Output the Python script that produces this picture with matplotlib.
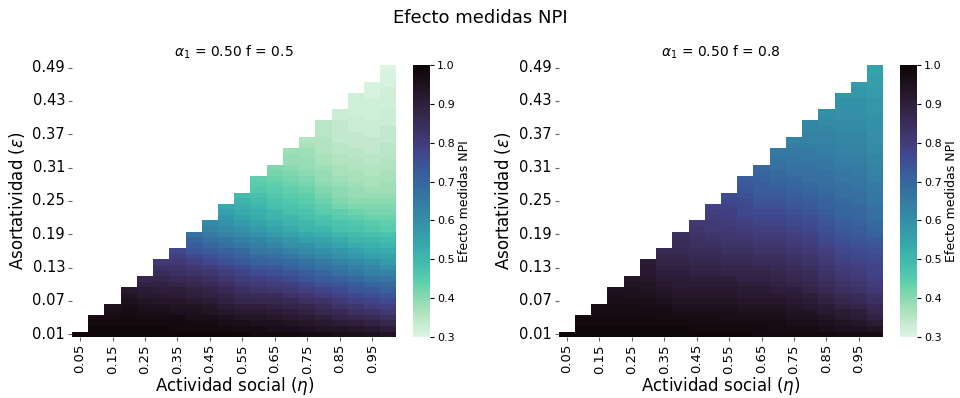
# Efecto de las medidas NPI
# Mapas de calor: actividad social (eta) frente a asortatividad (epsilon)

import numpy as np
import pandas as pd
import matplotlib
matplotlib.use('Agg')
import matplotlib.pyplot as plt
import seaborn as sns


# Ejes del mapa
eta_vals = [0.05, 0.10, 0.15, 0.20, 0.25, 0.30, 0.35, 0.40, 0.45, 0.50,
            0.55, 0.60, 0.65, 0.70, 0.75, 0.80, 0.85, 0.90, 0.95, 1.00]
eps_vals = np.round(np.arange(0.01, 0.50, 0.01), 2)

# Efecto (en %) por columna de eta, desde epsilon = 0.01 hacia arriba; f = 0.5
f05_cols = [
    [99],
    [99, 99, 98, 97],
    [99, 99, 98, 97, 96, 95],
    [99, 99, 98, 98, 97, 96, 95, 94, 92],
    [99, 99, 98, 97, 96, 95, 94, 92, 91, 89, 87],
    [99, 99, 98, 97, 96, 95, 93, 92, 90, 89, 87, 85, 83, 81],
    [99, 98, 98, 97, 95, 94, 93, 91, 90, 88, 86, 84, 83, 81, 79, 77],
    [99, 98, 97, 96, 95, 94, 92, 90, 89, 87, 85, 83, 81, 79, 77, 74, 72, 70, 67],
    [99, 98, 97, 96, 94, 93, 91, 89, 88, 86, 84, 82, 80, 77, 75, 72, 70, 68, 65, 63, 61],
    [99, 98, 96, 95, 93, 91, 89, 88, 86, 84, 82, 80, 78, 75, 73, 71, 68, 66, 63, 61,
     59, 58, 56, 54],
    [99, 97, 96, 94, 92, 90, 87, 86, 84, 82, 80, 78, 76, 73, 71, 69, 66, 64, 61, 59,
     57, 55, 54, 52, 51, 49],
    [98, 97, 95, 94, 92, 90, 87, 85, 83, 81, 79, 76, 74, 71, 69, 66, 64, 62, 59, 57,
     55, 53, 52, 50, 49, 48, 46, 45, 44],
    [98, 96, 95, 93, 91, 89, 87, 85, 82, 80, 78, 75, 73, 70, 68, 65, 62, 60, 57, 55,
     53, 51, 50, 48, 47, 46, 45, 44, 43, 42, 41],
    [98, 96, 94, 92, 90, 88, 86, 83, 81, 79, 76, 74, 71, 69, 66, 63, 60, 58, 55, 53,
     51, 50, 48, 47, 46, 45, 44, 43, 42, 41, 40, 39, 39, 38],
    [97, 95, 93, 91, 89, 87, 84, 82, 79, 77, 74, 72, 69, 67, 64, 61, 59, 56, 54, 51,
     50, 48, 47, 46, 45, 44, 43, 42, 41, 40, 39, 39, 38, 38, 37, 36],
    [97, 94, 92, 90, 87, 85, 83, 80, 78, 75, 72, 70, 67, 65, 62, 59, 57, 55, 52, 50,
     48, 47, 45, 44, 43, 42, 41, 40, 39, 39, 38, 37, 37, 36, 36, 36, 35, 35, 35],
    [96, 94, 91, 88, 86, 83, 81, 78, 76, 74, 71, 68, 66, 63, 60, 58, 55, 53, 50, 48,
     47, 45, 44, 42, 41, 40, 40, 39, 38, 37, 37, 36, 36, 35, 35, 34, 34, 34, 34, 33,
     33],
    [96, 93, 90, 87, 84, 82, 79, 77, 74, 72, 69, 66, 64, 61, 58, 56, 53, 51, 49, 47,
     46, 44, 43, 41, 40, 39, 39, 38, 37, 37, 36, 36, 35, 35, 34, 34, 34, 33, 33, 33,
     32, 32, 32, 32],
    [95, 92, 89, 86, 83, 80, 78, 75, 73, 70, 67, 64, 62, 59, 56, 54, 52, 50, 48, 46,
     45, 43, 42, 41, 40, 39, 38, 37, 37, 36, 36, 35, 35, 34, 34, 34, 33, 33, 33, 32,
     32, 32, 32, 31, 31, 31],
    [94, 90, 87, 84, 81, 79, 76, 74, 71, 69, 66, 63, 60, 57, 55, 53, 51, 49, 47, 45,
     44, 43, 42, 41, 40, 39, 38, 38, 37, 37, 36, 36, 35, 35, 35, 34, 34, 34, 33, 33,
     33, 32, 32, 32, 32, 31, 31, 31, 30],
]

# Lo mismo para f = 0.8
f08_cols = [
    [99],
    [99, 99, 98, 98],
    [99, 99, 98, 98, 97, 97],
    [99, 99, 98, 98, 97, 97, 96, 96, 95],
    [99, 99, 98, 98, 97, 97, 96, 95, 95, 94, 93],
    [99, 99, 98, 98, 97, 96, 96, 95, 94, 94, 93, 92, 92, 91],
    [99, 99, 98, 97, 97, 96, 95, 94, 93, 92, 91, 90, 89, 88, 87, 86],
    [99, 99, 98, 97, 96, 95, 94, 93, 92, 91, 91, 90, 89, 88, 87, 86, 85, 85, 84],
    [99, 98, 97, 97, 96, 95, 94, 93, 92, 91, 90, 89, 88, 87, 86, 85, 84, 84, 83, 82, 81],
    [99, 98, 97, 97, 96, 95, 94, 93, 92, 91, 90, 89, 88, 87, 86, 85, 84, 83, 82, 81,
     81, 80, 79, 78],
    [99, 98, 97, 96, 96, 95, 94, 93, 92, 91, 90, 88, 87, 86, 85, 84, 83, 82, 82, 81,
     80, 79, 79, 78, 77, 76],
    [99, 98, 97, 96, 95, 94, 93, 92, 91, 90, 89, 88, 87, 86, 85, 84, 83, 82, 81, 80,
     79, 78, 77, 77, 76, 75, 74, 73, 72],
    [98, 98, 97, 96, 95, 94, 93, 92, 91, 90, 89, 88, 87, 85, 84, 83, 82, 81, 80, 79,
     78, 77, 76, 75, 74, 73, 72, 72, 71, 70, 69],
    [98, 97, 97, 96, 95, 94, 93, 92, 90, 89, 88, 87, 86, 85, 84, 83, 82, 81, 80, 79,
     78, 77, 76, 75, 74, 73, 72, 71, 70, 69, 68, 67, 66, 65],
    [98, 97, 96, 95, 94, 93, 92, 91, 90, 88, 87, 86, 85, 84, 83, 82, 81, 80, 79, 78,
     77, 76, 75, 74, 73, 72, 71, 70, 69, 68, 67, 66, 66, 65, 64, 63],
    [98, 97, 96, 95, 94, 92, 91, 90, 88, 87, 86, 85, 84, 83, 82, 81, 80, 79, 78, 77,
     76, 75, 74, 73, 72, 71, 70, 69, 68, 68, 67, 66, 65, 65, 64, 63, 63, 62, 62],
    [98, 96, 95, 94, 92, 91, 89, 88, 86, 85, 84, 83, 82, 81, 80, 79, 78, 77, 76, 75,
     74, 73, 72, 71, 71, 70, 69, 68, 68, 67, 66, 66, 65, 64, 64, 63, 63, 62, 61, 61,
     60],
    [97, 95, 94, 92, 91, 89, 87, 86, 84, 83, 82, 81, 80, 79, 78, 77, 76, 75, 74, 73,
     72, 71, 70, 70, 69, 68, 68, 67, 66, 66, 65, 64, 64, 63, 63, 62, 62, 61, 61, 60,
     60, 59, 59, 58],
    [97, 95, 93, 91, 90, 88, 86, 85, 83, 82, 81, 80, 79, 78, 77, 76, 75, 74, 73, 72,
     71, 70, 70, 69, 68, 68, 67, 66, 66, 65, 65, 64, 64, 63, 63, 62, 62, 61, 61, 60,
     60, 59, 59, 58, 58, 57],
    [97, 94, 91, 89, 87, 86, 84, 83, 81, 80, 79, 78, 78, 77, 76, 75, 74, 73, 71, 70,
     69, 68, 68, 67, 66, 66, 65, 65, 64, 63, 63, 62, 62, 61, 61, 60, 60, 60, 59, 59,
     58, 58, 58, 57, 57, 56, 56, 55, 55],
]

panel_titles = [r'$\alpha_1$ = 0.50 f = 0.5', r'$\alpha_1$ = 0.50 f = 0.8']


# Construccion de la tabla (las celdas sin dato quedan en blanco)
def build_table(cols):
    m = np.full((len(eps_vals), len(eta_vals)), np.nan)
    for j, col in enumerate(cols):
        m[:len(col), j] = np.array(col) / 100
    return pd.DataFrame(m,
                        index=[f'{e:.2f}' for e in eps_vals],
                        columns=[f'{e:.2f}' for e in eta_vals])


# Dibujo de un mapa de calor con su barra de color
def plot_panel(fig, rect_ax, rect_cb, df, title):
    ax = fig.add_axes(rect_ax)
    cax = fig.add_axes(rect_cb)
    sns.heatmap(df, ax=ax, cbar_ax=cax, cmap='mako_r', vmin=0.3, vmax=1.0,
                xticklabels=2, yticklabels=6)
    ax.invert_yaxis()
    ax.set_title(title, fontsize=10)
    ax.set_xlabel(r'Actividad social ($\eta$)', fontsize=12, labelpad=1)
    ax.set_ylabel(r'Asortatividad ($\varepsilon$)', fontsize=12)
    ax.tick_params(axis='x', labelrotation=90, labelsize=9.5, length=3, pad=2,
                   color='0.4')
    ax.tick_params(axis='y', labelrotation=0, labelsize=10.5, length=3, pad=2,
                   color='0.4')
    cax.set_yticks([0.3, 0.4, 0.5, 0.6, 0.7, 0.8, 0.9, 1.0])
    cax.tick_params(labelsize=8, length=3, pad=2)
    cax.set_ylabel('Efecto medidas NPI', fontsize=9, labelpad=2)


if __name__ == '__main__':
    fig = plt.figure(figsize=(9.6, 3.98), dpi=100)
    fig.suptitle('Efecto medidas NPI', fontsize=13, y=0.978)

    plot_panel(fig, [0.075, 0.153, 0.338, 0.684], [0.430, 0.153, 0.018, 0.684],
               build_table(f05_cols), panel_titles[0])
    plot_panel(fig, [0.582, 0.153, 0.338, 0.684], [0.9375, 0.153, 0.018, 0.684],
               build_table(f08_cols), panel_titles[1])

    fig.savefig('out.png', dpi=100)
